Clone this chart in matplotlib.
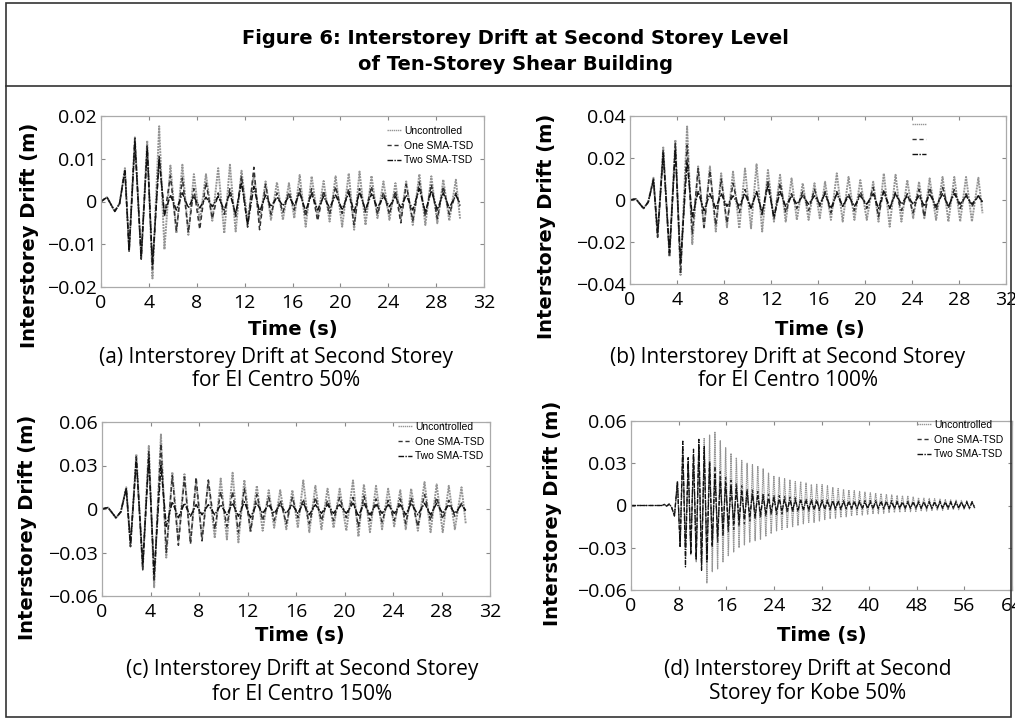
import numpy as np
import matplotlib
matplotlib.use("Agg")
import matplotlib.pyplot as plt
from matplotlib.patches import Rectangle
from matplotlib.lines import Line2D

W, H = 1015, 721

# ---------------- data: El Centro extrema (time, drift) ----------------
t_elc = [0, 0.5, 1.15, 1.55, 2.0, 2.35, 2.83, 3.36, 3.86, 4.3, 4.86, 5.3,
         5.8, 6.3, 6.8, 7.3, 7.76, 8.25, 8.77, 9.3, 9.79, 10.3,
         10.77, 11.25, 11.74, 12.25, 12.77, 13.25, 13.75, 14.2, 14.7, 15.2,
         15.7, 16.15, 16.6, 17.1, 17.6, 18.1, 18.6, 19.1, 19.6, 20.15,
         20.7, 21.15, 21.6, 22.1, 22.6, 23.1, 23.6, 24.1, 24.6, 25.05,
         25.5, 26.05, 26.6, 27.1, 27.6, 28.1, 28.6, 29.1, 29.65, 30.0]

# (a) El Centro 50%
a_unc = [0, 0.001, -0.0023, -0.0005, 0.0078, -0.0113, 0.015, -0.0133, 0.0142, -0.018, 0.0176, -0.0112,
         0.0084, -0.0074, 0.0086, -0.0078, 0.0064, -0.0047, 0.0064, -0.0045, 0.0078, -0.0074,
         0.0086, -0.0070, 0.0072, -0.0047, 0.0064, -0.0050, 0.0047, -0.0043, 0.0045, -0.0043,
         0.0043, -0.0039, 0.0062, -0.0059, 0.0059, -0.0039, 0.0048, -0.0047, 0.0059, -0.0059,
         0.0066, -0.0066, 0.0070, -0.0055, 0.0060, -0.0039, 0.0047, -0.0043, 0.0043, -0.0039,
         0.0047, -0.0055, 0.0064, -0.0055, 0.0059, -0.0051, 0.0051, -0.0045, 0.0051, -0.0040]
a_one = [0, 0.001, -0.0023, -0.0005, 0.0075, -0.0118, 0.0148, -0.0135, 0.013, -0.0158, 0.0105, -0.0035,
         0.0060, -0.0068, 0.0055, -0.0072, 0.0030, -0.0065, 0.0045, -0.0040, 0.0020, -0.0030,
         0.0030, -0.0035, 0.0060, -0.0060, 0.0080, -0.0066, 0.0040, -0.0030, 0.0020, -0.0025,
         0.0022, -0.0020, 0.0030, -0.0035, 0.0030, -0.0045, 0.0025, -0.0030, 0.0035, -0.0028,
         0.0030, -0.0055, 0.0030, -0.0025, 0.0035, -0.0030, 0.0022, -0.0030, 0.0025, -0.0050,
         0.0040, -0.0045, 0.0045, -0.0035, 0.0040, -0.0040, 0.0035, -0.0030, 0.0020, -0.0010]
a_two = [0, 0.001, -0.0023, -0.0005, 0.0072, -0.0115, 0.0140, -0.0130, 0.0125, -0.0150, 0.0100, -0.0030,
         0.0015, -0.0020, 0.0020, -0.0015, 0.0012, -0.0015, 0.0010, -0.0012, 0.0012, -0.0020,
         0.0020, -0.0030, 0.0045, -0.0055, 0.0035, -0.0025, 0.0015, -0.0012, 0.0010, -0.0010,
         0.0012, -0.0010, 0.0020, -0.0022, 0.0018, -0.0020, 0.0012, -0.0015, 0.0015, -0.0018,
         0.0020, -0.0025, 0.0022, -0.0020, 0.0018, -0.0015, 0.0012, -0.0012, 0.0012, -0.0015,
         0.0015, -0.0020, 0.0030, -0.0025, 0.0025, -0.0020, 0.0020, -0.0015, 0.0015, -0.0005]

# (b) El Centro 100%
b_unc = [0, 0.0005, -0.004, -0.001, 0.0106, -0.0175, 0.025, -0.027, 0.0286, -0.0357, 0.035, -0.021,
         0.016, -0.0135, 0.016, -0.015, 0.0127, -0.013, 0.0135, -0.0135, 0.015, -0.0135,
         0.017, -0.015, 0.0143, -0.0103, 0.012, -0.0103, 0.0103, -0.0095, 0.008, -0.0095,
         0.008, -0.0087, 0.0087, -0.0095, 0.0127, -0.0103, 0.011, -0.0095, 0.0095, -0.0095,
         0.0087, -0.0103, 0.0127, -0.0127, 0.012, -0.0103, 0.0095, -0.0087, 0.0087, -0.0087,
         0.0103, -0.0095, 0.011, -0.0103, 0.011, -0.0103, 0.011, -0.0103, 0.0106, -0.0063]
b_one = [0, 0.0005, -0.004, -0.001, 0.010, -0.0178, 0.024, -0.027, 0.027, -0.035, 0.026, -0.016,
         0.015, -0.013, 0.014, -0.012, 0.010, -0.011, 0.008, -0.006, 0.005, -0.004,
         0.004, -0.007, 0.0095, -0.009, 0.008, -0.006, 0.003, -0.004, 0.004, -0.005,
         0.005, -0.003, 0.004, -0.006, 0.004, -0.003, 0.003, -0.005, 0.004, -0.004,
         0.006, -0.008, 0.005, -0.004, 0.004, -0.005, 0.003, -0.006, 0.005, -0.008,
         0.006, -0.005, 0.006, -0.004, 0.005, -0.004, 0.003, -0.003, 0.002, -0.001]
b_two = [0, 0.0005, -0.004, -0.001, 0.0095, -0.016, 0.022, -0.025, 0.024, -0.030, 0.018, -0.008,
         0.004, -0.005, 0.003, -0.004, 0.003, -0.003, 0.002, -0.003, 0.003, -0.004,
         0.004, -0.006, 0.007, -0.008, 0.004, -0.003, 0.002, -0.002, 0.002, -0.002,
         0.002, -0.002, 0.003, -0.004, 0.003, -0.003, 0.002, -0.003, 0.002, -0.002,
         0.003, -0.004, 0.004, -0.004, 0.003, -0.002, 0.002, -0.002, 0.002, -0.003,
         0.003, -0.003, 0.003, -0.003, 0.003, -0.002, 0.002, -0.002, 0.002, -0.001]

# (c) El Centro 150%
c_unc = [0, 0.001, -0.0063, -0.002, 0.015, -0.0256, 0.0378, -0.041, 0.0435, -0.054, 0.0514, -0.0335,
         0.0254, -0.022, 0.024, -0.023, 0.0186, -0.020, 0.019, -0.020, 0.021, -0.021,
         0.025, -0.023, 0.020, -0.016, 0.016, -0.015, 0.013, -0.013, 0.013, -0.014,
         0.013, -0.013, 0.0197, -0.016, 0.016, -0.014, 0.014, -0.013, 0.014, -0.015,
         0.0197, -0.019, 0.017, -0.016, 0.016, -0.014, 0.014, -0.012, 0.013, -0.014,
         0.014, -0.015, 0.0186, -0.016, 0.017, -0.016, 0.016, -0.014, 0.015, -0.010]
c_one = [0, 0.001, -0.006, -0.002, 0.0145, -0.026, 0.036, -0.042, 0.040, -0.050, 0.045, -0.030,
         0.023, -0.025, 0.022, -0.024, 0.022, -0.022, 0.020, -0.014, 0.012, -0.012,
         0.012, -0.016, 0.014, -0.015, 0.010, -0.008, 0.008, -0.008, 0.006, -0.010,
         0.008, -0.006, 0.007, -0.010, 0.008, -0.008, 0.006, -0.008, 0.008, -0.006,
         0.008, -0.012, 0.009, -0.008, 0.007, -0.009, 0.006, -0.008, 0.007, -0.010,
         0.008, -0.012, 0.010, -0.008, 0.008, -0.007, 0.006, -0.005, 0.004, -0.002]
c_two = [0, 0.001, -0.006, -0.002, 0.014, -0.024, 0.034, -0.038, 0.035, -0.045, 0.030, -0.012,
         0.005, -0.006, 0.004, -0.005, 0.003, -0.004, 0.003, -0.004, 0.003, -0.004,
         0.004, -0.005, 0.005, -0.006, 0.004, -0.003, 0.003, -0.003, 0.003, -0.003,
         0.003, -0.003, 0.004, -0.004, 0.003, -0.003, 0.003, -0.003, 0.003, -0.003,
         0.004, -0.005, 0.004, -0.004, 0.003, -0.003, 0.003, -0.003, 0.003, -0.004,
         0.004, -0.004, 0.004, -0.004, 0.004, -0.003, 0.003, -0.003, 0.003, -0.001]

# (d) Kobe 50%: quiet lead-in, then peak times with positive peaks / following troughs
d_lead_t = [0, 5.2, 5.6, 6.0, 6.4, 6.8, 7.3, 7.8, 8.25]
d_lead_v = [0, 0, 0.0008, -0.0005, 0.001, -0.001, -0.0074, 0.017, -0.029]
d_peak_t = [8.7, 9.6, 10.5, 11.4, 12.3, 13.2, 14.1, 15.0, 15.9, 16.8, 17.7, 18.6, 19.5, 20.4,
            21.3, 22.2, 23.1, 24.0, 24.9, 25.8, 26.7, 27.6, 28.5, 29.4, 30.3, 31.2, 32.1, 33.0,
            33.9, 34.8, 35.7, 36.6, 37.5, 38.4, 39.3, 40.2, 41.1, 42.0, 42.9, 43.8, 44.7, 45.6,
            46.5, 47.4, 48.3, 49.2, 50.1, 51.0, 51.9, 52.8, 53.7, 54.6, 55.5, 56.4, 57.3]
d_trough_dt = 0.45
d_unc_pk = [0.040, 0.030, 0.036, 0.042, 0.048, 0.050, 0.052, 0.046, 0.041, 0.037,
            0.034, 0.032, 0.030, 0.029, 0.028, 0.026, 0.023, 0.021, 0.020, 0.019,
            0.018, 0.017, 0.017, 0.016, 0.015, 0.015, 0.0148, 0.014, 0.013, 0.012,
            0.0115, 0.011, 0.0105, 0.010, 0.0095, 0.009, 0.0088, 0.0085, 0.008, 0.0075,
            0.007, 0.007, 0.0065, 0.006, 0.0055, 0.0052, 0.005, 0.0048, 0.0045, 0.0042,
            0.004, 0.0038, 0.0036, 0.0034, 0.003]
d_unc_tr = [-0.030, -0.035, -0.040, -0.045, -0.055, -0.047, -0.045, -0.040, -0.036, -0.033,
            -0.030, -0.028, -0.026, -0.025, -0.024, -0.022, -0.020, -0.018, -0.017, -0.016,
            -0.015, -0.014, -0.013, -0.012, -0.012, -0.011, -0.010, -0.0095, -0.009, -0.0085,
            -0.008, -0.0075, -0.007, -0.0068, -0.0065, -0.006, -0.0058, -0.0055, -0.0052, -0.005,
            -0.0048, -0.0046, -0.0044, -0.0042, -0.004, -0.004, -0.0038, -0.0036, -0.0034, -0.0032,
            -0.003, -0.003, -0.0028, -0.0026, -0.0025]
d_one_pk = [0.035, 0.030, 0.035, 0.040, 0.038, 0.032, 0.028, 0.024, 0.020, 0.018,
            0.016, 0.014, 0.012, 0.011, 0.010, 0.009, 0.008, 0.0075, 0.007, 0.0065,
            0.006, 0.0055, 0.005, 0.005, 0.0045, 0.0045, 0.004, 0.004, 0.004, 0.0035,
            0.0035, 0.0035, 0.0035, 0.0035, 0.0035, 0.0035, 0.0035, 0.0035, 0.0035, 0.0035,
            0.003, 0.003, 0.003, 0.003, 0.003, 0.003, 0.003, 0.003, 0.003, 0.003,
            0.0028, 0.0028, 0.0028, 0.0028, 0.0028]
d_one_tr = [-0.028, -0.033, -0.038, -0.040, -0.035, -0.030, -0.026, -0.022, -0.019, -0.017,
            -0.015, -0.013, -0.011, -0.010, -0.009, -0.008, -0.007, -0.0065, -0.006, -0.0055,
            -0.005, -0.0045, -0.004, -0.004, -0.0035, -0.0035, -0.003, -0.003, -0.003, -0.003,
            -0.0025, -0.0025, -0.0025, -0.0025, -0.0025, -0.0025, -0.0025, -0.0025, -0.0025, -0.0025,
            -0.0022, -0.0022, -0.0022, -0.0022, -0.0022, -0.0022, -0.0022, -0.0022, -0.0022, -0.0022,
            -0.002, -0.002, -0.002, -0.002, -0.002]
d_two_pk = [0.0457, 0.034, 0.040, 0.047, 0.042, 0.030, 0.022, 0.018, 0.016, 0.014,
            0.012, 0.010, 0.009, 0.008, 0.007, 0.006, 0.005, 0.005, 0.0045, 0.004,
            0.004, 0.0035, 0.0035, 0.003, 0.003, 0.0028, 0.0028, 0.0026, 0.0026, 0.0025,
            0.0025, 0.0024, 0.0024, 0.0023, 0.0023, 0.0022, 0.0022, 0.0022, 0.0021, 0.0021,
            0.0021, 0.002, 0.002, 0.002, 0.002, 0.002, 0.002, 0.002, 0.002, 0.002,
            0.002, 0.002, 0.002, 0.002, 0.002]
d_two_tr = [-0.0436, -0.034, -0.038, -0.046, -0.040, -0.028, -0.022, -0.018, -0.015, -0.013,
            -0.011, -0.009, -0.008, -0.007, -0.006, -0.005, -0.0045, -0.004, -0.0035, -0.003,
            -0.003, -0.003, -0.0025, -0.0025, -0.0025, -0.002, -0.002, -0.002, -0.002, -0.002,
            -0.0018, -0.0018, -0.0018, -0.0018, -0.0018, -0.0017, -0.0017, -0.0017, -0.0017, -0.0017,
            -0.0016, -0.0016, -0.0016, -0.0016, -0.0016, -0.0015, -0.0015, -0.0015, -0.0015, -0.0015,
            -0.0015, -0.0015, -0.0015, -0.0015, -0.0015]

series_labels = ["Uncontrolled", "One SMA-TSD", "Two SMA-TSD"]

# ---------------- styles ----------------
STY = [dict(color="#959595", ls=(0, (1.0, 0.5)), lw=1.4),
       dict(color="#333333", ls=(0, (3, 2)), lw=1.1),
       dict(color="#111111", ls=(0, (4, 1, 1, 1)), lw=1.1)]

plt.rcParams["font.family"] = ["DejaVu Sans"]
fig = plt.figure(figsize=(W / 100, H / 100), dpi=100)

def fx(x):
    return x / W

def fy(y):
    return 1 - y / H

# frame and title box
fig.add_artist(Rectangle((fx(6), fy(717)), fx(1011) - fx(6), fy(3) - fy(717),
                         transform=fig.transFigure, fill=False, ec="#333333", lw=1.2))
fig.add_artist(Line2D([fx(6), fx(1011)], [fy(86), fy(86)], transform=fig.transFigure,
                      color="#333333", lw=1.2))
fig.text(fx(515), fy(38), "Figure 6: Interstorey Drift at Second Storey Level",
         ha="center", va="center", fontsize=14, fontweight="bold")
fig.text(fx(515), fy(65), "of Ten-Storey Shear Building",
         ha="center", va="center", fontsize=14, fontweight="bold")

TICKFONT = ["Open Sans", "DejaVu Sans"]

def make_axes(box, xmax, xstep, ylim, yticks, ylabels):
    l, t, r, b = box
    ax = fig.add_axes([fx(l), fy(b), fx(r) - fx(l), fy(t) - fy(b)])
    ax.set_xlim(0, xmax)
    ax.set_ylim(*ylim)
    xt = np.arange(0, xmax + 0.1, xstep)
    ax.set_xticks(xt)
    ax.set_xticklabels([str(int(v)) for v in xt], fontsize=14, family=TICKFONT)
    ax.set_yticks(yticks)
    ax.set_yticklabels(ylabels, fontsize=14, family=TICKFONT)
    ax.tick_params(direction="in", length=3, width=0.8, color="#888888",
                   top=True, right=True, pad=3)
    ax.tick_params(axis="x", pad=5)
    for s in ax.spines.values():
        s.set_color("#aaaaaa")
        s.set_linewidth(0.9)
    return ax

def draw_series(ax, t, vals):
    for v, st in zip(vals, STY):
        ax.plot(t, v, color=st["color"], linestyle=st["ls"], linewidth=st["lw"])

def legend_at(ax, x, y, labels):
    handles = [Line2D([], [], color=st["color"], linestyle=st["ls"], linewidth=1.0) for st in STY]
    ax.legend(handles, labels, loc="upper left", bbox_to_anchor=(fx(x), fy(y)),
              bbox_transform=fig.transFigure, frameon=False,
              prop={"family": ["Liberation Sans", "DejaVu Sans"], "size": 7.5},
              handlelength=1.3, handletextpad=0.35, labelspacing=0.45, borderpad=0, borderaxespad=0)

M = "\u2212"
# (a)
axa = make_axes((101, 116, 484, 287), 32, 4, (-0.02, 0.02), [-0.02, -0.01, 0, 0.01, 0.02],
                [M + "0.02", M + "0.01", "0", "0.01", "0.02"])
draw_series(axa, t_elc, [a_unc, a_one, a_two])
legend_at(axa, 387, 126, series_labels)

# (b)
axb = make_axes((630, 116, 1006, 284), 32, 4, (-0.04, 0.04), [-0.04, -0.02, 0, 0.02, 0.04],
                [M + "0.04", M + "0.02", "0", "0.02", "0.04"])
draw_series(axb, t_elc, [b_unc, b_one, b_two])
legend_at(axb, 912, 120, ["", "", ""])

# (c)
axc = make_axes((102, 422, 490, 596), 32, 4, (-0.06, 0.06), [-0.06, -0.03, 0, 0.03, 0.06],
                [M + "0.06", M + "0.03", "0", "0.03", "0.06"])
draw_series(axc, t_elc, [c_unc, c_one, c_two])
legend_at(axc, 398, 422, series_labels)

# (d)
axd = make_axes((631, 421, 1012, 590), 64, 8, (-0.06, 0.06), [-0.06, -0.03, 0, 0.03, 0.06],
                [M + "0.06", M + "0.03", "0", "0.03", "0.06"])
for pk, tr, st in zip([d_unc_pk, d_one_pk, d_two_pk], [d_unc_tr, d_one_tr, d_two_tr], STY):
    tt = list(d_lead_t)
    vv = list(d_lead_v)
    for tp, p, q in zip(d_peak_t, pk, tr):
        tt += [tp, tp + d_trough_dt]
        vv += [p, q]
    axd.plot(tt, vv, color=st["color"], linestyle=st["ls"], linewidth=0.9)
legend_at(axd, 917, 420, series_labels)

# axis labels and captions
YL = dict(fontsize=14, fontweight="bold", rotation=90, ha="center", va="center")
fig.text(fx(30), fy(235), "Interstorey Drift (m)", **YL)
fig.text(fx(547), fy(226), "Interstorey Drift (m)", **YL)
fig.text(fx(28), fy(527), "Interstorey Drift (m)", **YL)
fig.text(fx(553), fy(513), "Interstorey Drift (m)", **YL)
XL = dict(fontsize=14, fontweight="bold", ha="center", va="center")
fig.text(fx(293), fy(330), "Time (s)", **XL)
fig.text(fx(820), fy(330), "Time (s)", **XL)
fig.text(fx(300), fy(635), "Time (s)", **XL)
fig.text(fx(822), fy(635), "Time (s)", **XL)
CP = dict(fontsize=15, ha="center", va="center", family=TICKFONT)
fig.text(fx(276), fy(358), "(a) Interstorey Drift at Second Storey", **CP)
fig.text(fx(276), fy(381), "for El Centro 50%", **CP)
fig.text(fx(788), fy(358), "(b) Interstorey Drift at Second Storey", **CP)
fig.text(fx(788), fy(381), "for El Centro 100%", **CP)
fig.text(fx(302), fy(670), "(c) Interstorey Drift at Second Storey", **CP)
fig.text(fx(302), fy(695), "for El Centro 150%", **CP)
fig.text(fx(808), fy(669), "(d) Interstorey Drift at Second", **CP)
fig.text(fx(808), fy(693), "Storey for Kobe 50%", **CP)

fig.savefig("out.png", dpi=100)
